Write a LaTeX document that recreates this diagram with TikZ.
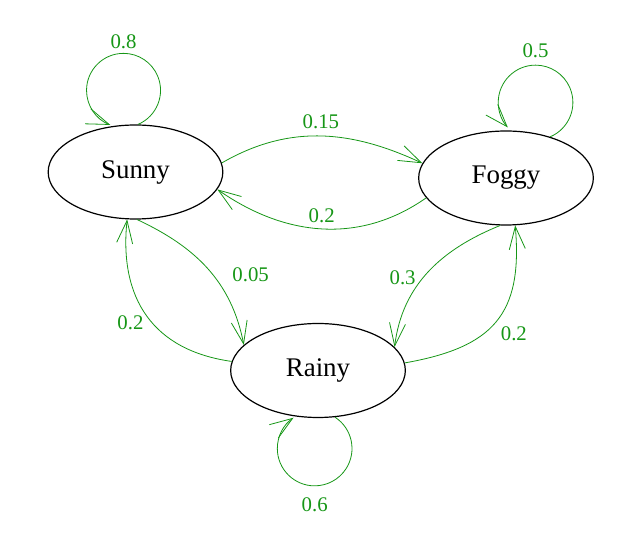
\documentclass[tikz,border=0pt]{standalone}
\usepackage{fontspec}
\setmainfont{Liberation Serif}
\usepackage{xcolor}
\usepackage{tikz}
\usetikzlibrary{arrows.meta,shapes.geometric}
\definecolor{probgreen}{RGB}{22,150,22}

\begin{document}
\begin{tikzpicture}[
    x=0.75pt, y=0.75pt,
    state/.style={ellipse, draw=black, line width=0.9pt, minimum width=131pt, minimum height=70.5pt, inner sep=0pt, font=\fontsize{20.2}{24}\selectfont},
    arrow/.style={-{Straight Barb[length=17pt, width=12pt]}, line width=0.6pt, draw=probgreen},
    prob/.style={text=probgreen, font=\fontsize{15.6}{18}\selectfont}
]
\useasboundingbox (0,0) rectangle (639,542);

% States
\node[state] (sunny) at (135.5, 370) {Sunny};
\node[state] (foggy) at (506, 364) {Foggy};
\node[state] (rainy) at (318, 171.5) {Rainy};

% Transitions between states
\draw[arrow] (sunny.6) to[out=30, in=155] node[prob, above=2pt] {0.15} (foggy.170);
\draw[arrow] (foggy.194) to[out=215, in=-35] node[prob, above=1pt] {0.2} (sunny.-12);
\draw[arrow] (sunny.-88) to[out=-25, in=101] node[prob, pos=0.55, right=11pt] {0.05} (rainy.161);
\draw[arrow] (rainy.174) to[out=172, in=-96, looseness=1.15] node[prob, pos=0.45, left=3pt] {0.2} (sunny.-100);
\draw[arrow] (foggy.-97) to[out=202, in=83] node[prob, pos=0.55, left=2pt] {0.3} (rainy.17);
\draw[arrow] (rainy.5) to[out=10, in=-85, looseness=1.3] node[prob, below right] {0.2} (foggy.-79);

% Self loops
\draw[arrow] (sunny.87) arc[start angle=-67, end angle=90, radius=27.75pt] node[prob, above] {0.8}
    arc[start angle=90, end angle=249, radius=27.75pt];
\draw[arrow] (foggy.43) arc[start angle=-67, end angle=90, radius=28pt] node[prob, above=2pt] {0.5}
    arc[start angle=90, end angle=222, radius=28pt];
\draw[arrow] (rainy.-70) arc[start angle=57, end angle=-90, radius=28pt] node[prob, below=5pt] {0.6}
    arc[start angle=-90, end angle=-235.5, radius=28pt];

\end{tikzpicture}
\end{document}
